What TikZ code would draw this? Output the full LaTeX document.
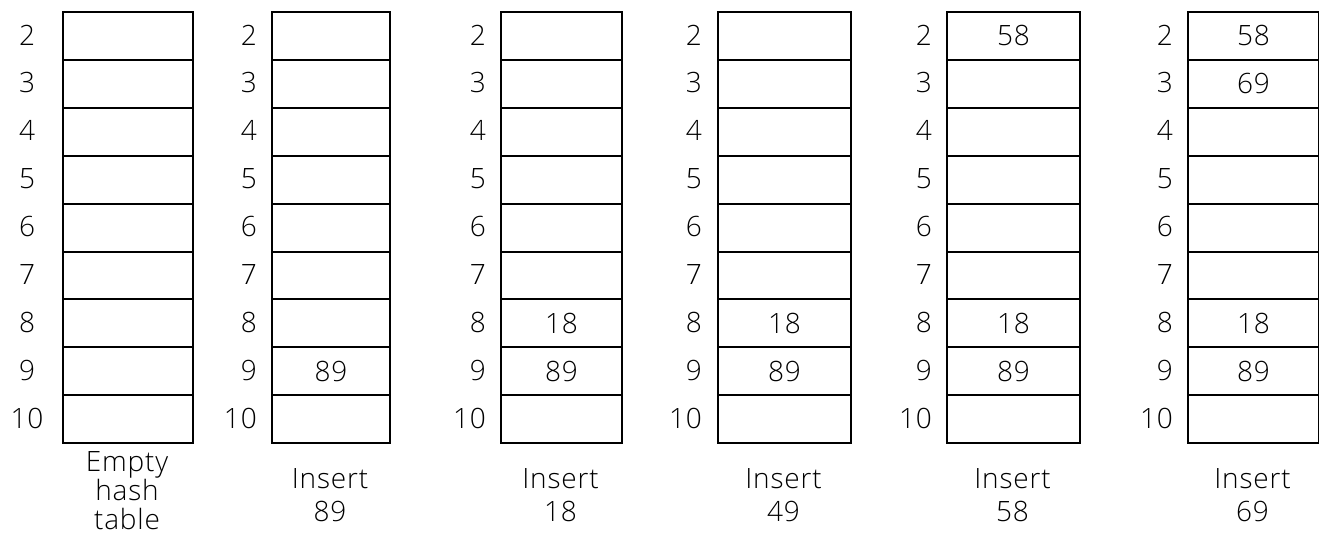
\documentclass[tikz,border=0pt]{standalone}
\usepackage{fontspec}
\setmainfont{Open Sans Light}[LetterSpace=3]
\newcommand{\cellfont}{\fontsize{28}{33}\selectfont}
\begin{document}
\begin{tikzpicture}[x=1pt,y=-1pt,
  cell/.style={draw=black,line width=2pt,inner sep=0pt,anchor=north west,minimum height=47.9pt,font=\cellfont},
  idx/.style={inner sep=0pt,font=\cellfont},
  val/.style={inner sep=0pt,font=\cellfont},
  captiontext/.style={inner sep=0pt,align=center,font=\fontsize{28}{33}\selectfont}]
\useasboundingbox (0,0) rectangle (1319,542);
% table geometry: name/left/width/label x/label anchor
\foreach \t/\x/\w/\lx/\la in {1/62/130/27/center,2/271/118/257/east,3/500/121/486/east,4/717/133/702/east,5/946/133/932/east,6/1187/131/1173/east}{
  \foreach \r [count=\i from 0] in {2,...,10}{
    \node[cell,minimum width=\w pt] (t\t r\r) at (\x,11+\i*47.9) {};
    \node[idx,anchor=\la] (l\t r\r) at (\lx,11+\i*47.9+23.95) {\r};
  }
}
% values
\node[val] (v2a) at (t2r9) {89};
\node[val] (v3a) at (t3r8) {18};
\node[val] (v3b) at (t3r9) {89};
\node[val] (v4a) at (t4r8) {18};
\node[val] (v4b) at (t4r9) {89};
\node[val] (v5a) at (t5r2) {58};
\node[val] (v5b) at (t5r8) {18};
\node[val] (v5c) at (t5r9) {89};
\node[val] (v6a) at (t6r2) {58};
\node[val] (v6b) at (t6r3) {69};
\node[val] (v6c) at (t6r8) {18};
\node[val] (v6d) at (t6r9) {89};
% captions
\node[captiontext,font=\fontsize{28}{29}\selectfont] (c1) at (127,491) {Empty\\hash\\table};
\node[captiontext] (c2) at (330,495) {Insert\\89};
\node[captiontext] (c3) at (560.5,495) {Insert\\18};
\node[captiontext] (c4) at (783.5,495) {Insert\\49};
\node[captiontext] (c5) at (1012.5,495) {Insert\\58};
\node[captiontext] (c6) at (1252.5,495) {Insert\\69};
\end{tikzpicture}
\end{document}
